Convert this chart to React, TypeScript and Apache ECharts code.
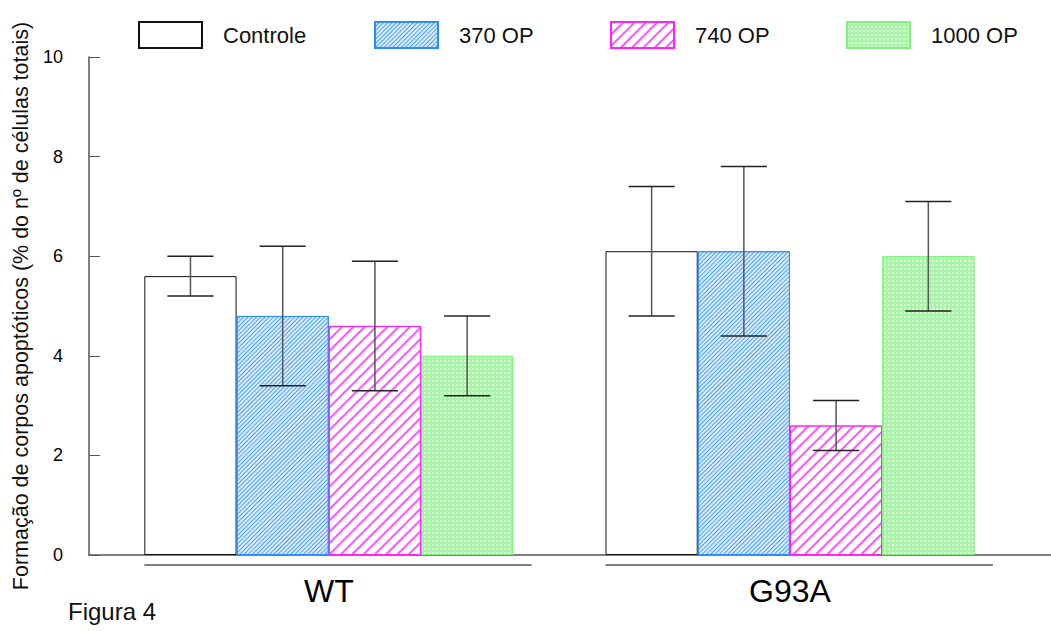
import React, { useEffect, useRef } from "react";
import * as echarts from "echarts";

const groups = ["WT", "G93A"];
const seriesNames = ["Controle", "370 OP", "740 OP", "1000 OP"];
const meanControle = [5.6, 6.1];
const mean370 = [4.8, 6.1];
const mean740 = [4.6, 2.6];
const mean1000 = [4.0, 6.0];
const lowControle = [5.2, 4.8];
const highControle = [6.0, 7.4];
const low370 = [3.4, 4.4];
const high370 = [6.2, 7.8];
const low740 = [3.3, 2.1];
const high740 = [5.9, 3.1];
const low1000 = [3.2, 4.9];
const high1000 = [4.8, 7.1];
const yTicks = [0, 2, 4, 6, 8, 10];

const means = [meanControle, mean370, mean740, mean1000];
const lows = [lowControle, low370, low740, low1000];
const highs = [highControle, high370, high740, high1000];

const FONT = "'Liberation Sans', Arial, sans-serif";
const BAR_FRAC = 0.2;

const styles = [
  { color: "#ffffff", borderColor: "#111111" },
  {
    color: "#dcedff",
    borderColor: "#2b8cff",
    decal: {
      symbol: "rect",
      symbolSize: 1,
      dashArrayX: [1, 0],
      dashArrayY: [1, 1.8],
      rotation: -Math.PI / 4,
      color: "#4aa0ff",
    },
  },
  {
    color: "#ffffff",
    borderColor: "#ff22ff",
    decal: {
      symbol: "rect",
      symbolSize: 1,
      dashArrayX: [1, 0],
      dashArrayY: [1.2, 5.2],
      rotation: -Math.PI / 4,
      color: "#ff55ff",
    },
  },
  {
    color: "#a8f5a8",
    borderColor: "#80f080",
    decal: {
      symbol: "rect",
      symbolSize: 1,
      dashArrayX: [2, 2],
      dashArrayY: [2, 2],
      rotation: 0,
      color: "#dcffdc",
    },
  },
];

export default function App() {
  const ref = useRef<HTMLDivElement>(null);
  useEffect(() => {
    if (!ref.current) return;
    const chart = echarts.init(ref.current, null, { renderer: "svg" });
    const barSeries = seriesNames.map((name, k) => ({
      name,
      type: "bar",
      barWidth: "20%",
      barGap: "0%",
      data: groups.map((_, gi) => [gi + 1, means[k][gi]]),
      itemStyle: { ...styles[k], borderWidth: 1 },
      z: 2,
    }));
    const errSeries = seriesNames.map((name, k) => ({
      name: name + " err",
      type: "custom",
      z: 5,
      data: groups.map((_, gi) => [gi + 1, lows[k][gi], highs[k][gi]]),
      renderItem: (params: any, api: any) => {
        const xc = api.value(0) + (k - 1.5) * BAR_FRAC;
        const lo = api.coord([xc, api.value(1)]);
        const hi = api.coord([xc, api.value(2)]);
        const capL = api.coord([xc - 0.05, api.value(1)])[0];
        const capR = api.coord([xc + 0.05, api.value(1)])[0];
        return {
          type: "group",
          children: [
            {
              type: "line",
              shape: { x1: lo[0], y1: lo[1], x2: hi[0], y2: hi[1] },
              style: { stroke: "#555555", lineWidth: 1.5 },
            },
            {
              type: "line",
              shape: { x1: capL, y1: hi[1], x2: capR, y2: hi[1] },
              style: { stroke: "#222222", lineWidth: 1.5 },
            },
            {
              type: "line",
              shape: { x1: capL, y1: lo[1], x2: capR, y2: lo[1] },
              style: { stroke: "#222222", lineWidth: 1.5 },
            },
          ],
        };
      },
    }));

    chart.setOption({
      animation: false,
      backgroundColor: "#ffffff",
      grid: {
        left: 89,
        right: 0,
        top: 57,
        bottom: 76,
        containLabel: false,
        outerBoundsMode: "none",
      },
      legend: seriesNames.map((name, i) => ({
        data: [name],
        icon: "rect",
        left: 138 + 236 * i,
        top: 21,
        padding: 0,
        itemWidth: 63,
        itemHeight: 26,
        selectedMode: false,
        textStyle: {
          fontFamily: FONT,
          fontSize: 22,
          color: "#111",
          padding: [0, 0, 0, 16],
        },
      })),
      xAxis: {
        type: "value",
        min: 0.48,
        max: 2.566,
        splitLine: { show: false },
        axisLine: { show: true, onZero: false, lineStyle: { color: "#555", width: 1.5 } },
        axisTick: { show: false },
        axisLabel: {
          customValues: groups.map((_, i) => i + 1),
          formatter: (v: number) => groups[Math.round(v) - 1] ?? "",
          fontFamily: FONT,
          fontSize: 32,
          color: "#000",
          margin: 20,
        },
      },
      yAxis: {
        type: "value",
        min: 0,
        max: 10,
        interval: 2,
        splitLine: { show: false },
        axisLine: { show: true, onZero: false, lineStyle: { color: "#555", width: 1.5 } },
        axisTick: { show: true, inside: true, length: 11, lineStyle: { color: "#555" } },
        axisLabel: {
          customValues: yTicks,
          fontFamily: FONT,
          fontSize: 18,
          color: "#000",
          margin: 26,
        },
        name: "Formação de corpos apoptóticos (% do nº de células totais)",
        nameLocation: "middle",
        nameGap: 57,
        nameTextStyle: { fontFamily: FONT, fontSize: 21.5, color: "#111" },
      },
      series: [...barSeries, ...errSeries],
    });

    const lineY = chart.convertToPixel({ gridIndex: 0 }, [1, 0])[1] + 10;
    const under = groups.map((_, gi) => {
      const a = chart.convertToPixel({ gridIndex: 0 }, [gi + 1 - 0.4, 0])[0];
      const b = chart.convertToPixel({ gridIndex: 0 }, [gi + 1 + 0.44, 0])[0];
      return {
        type: "line",
        shape: { x1: a, y1: lineY, x2: b, y2: lineY },
        style: { stroke: "#555", lineWidth: 1.5 },
      };
    });
    chart.setOption({
      graphic: [
        ...under,
        {
          type: "text",
          left: 68,
          top: 599,
          style: { text: "Figura 4", fontFamily: FONT, fontSize: 24, fill: "#111" },
        },
      ],
    });

    return () => chart.dispose();
  }, []);
  return (
    <div
      ref={ref}
      style={{ position: "fixed", left: 0, top: 0, width: 1051, height: 631 }}
    />
  );
}
